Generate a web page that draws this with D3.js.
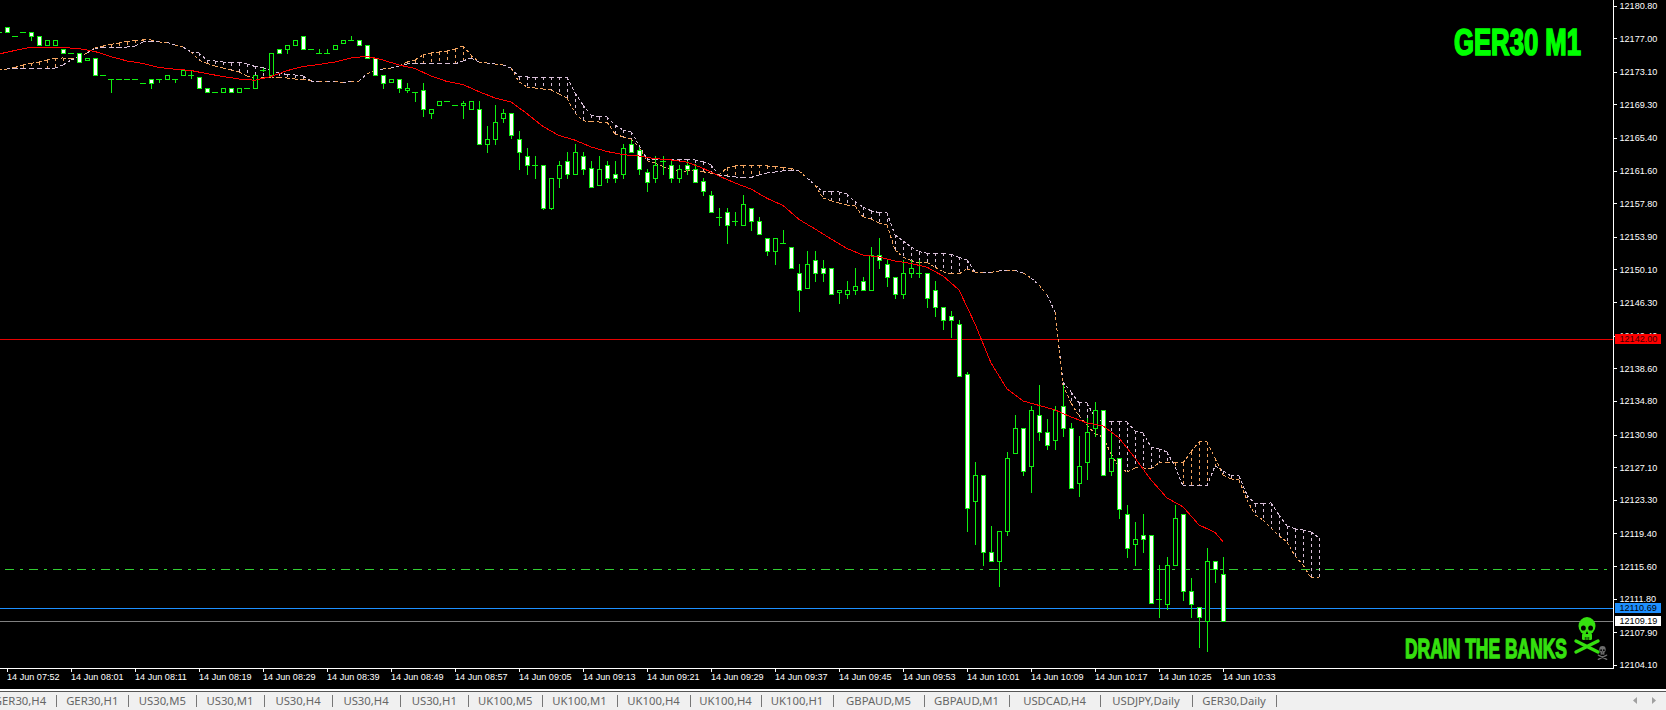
<!DOCTYPE html>
<html><head><meta charset="utf-8">
<script src="https://cdn.jsdelivr.net/npm/d3@7/dist/d3.min.js"></script>
<style>
html,body{margin:0;padding:0;background:#000;overflow:hidden}
svg{display:block}
</style></head><body>
<svg id="c" width="1666" height="710"></svg>
<script>
const timeLabels=["14 Jun 07:52","14 Jun 08:01","14 Jun 08:11","14 Jun 08:19","14 Jun 08:29","14 Jun 08:39","14 Jun 08:49","14 Jun 08:57","14 Jun 09:05","14 Jun 09:13","14 Jun 09:21","14 Jun 09:29","14 Jun 09:37","14 Jun 09:45","14 Jun 09:53","14 Jun 10:01","14 Jun 10:09","14 Jun 10:17","14 Jun 10:25","14 Jun 10:33"];
const priceTicks=[12180.8,12177,12173.1,12169.3,12165.4,12161.6,12157.8,12153.9,12150.1,12146.3,12142.4,12138.6,12134.8,12130.9,12127.1,12123.3,12119.4,12115.6,12111.8,12107.9,12104.1];
const openPrices=[
12177.68,12178.22,12177.22,12177.68,12177.68,12177.22,12176.17,12176.17,12175.70,12175.24,
12175.24,12174.42,12174.66,12172.68,12172.22,12172.22,12172.22,12172.22,12171.75,12172.22,
12172.22,12172.22,12172.22,12172.68,12172.68,12172.45,12171.17,12170.70,12170.70,12171.17,
12170.70,12171.17,12171.17,12173.26,12172.68,12175.70,12175.70,12176.17,12177.22,12175.70,
12175.24,12175.24,12175.70,12176.40,12176.75,12176.75,12176.17,12174.66,12172.68,12171.83,
12172.22,12170.94,12170.70,12170.97,12168.26,12169.19,12169.65,12169.19,12169.19,12168.72,
12168.72,12164.65,12165.24,12167.64,12168.26,12165.24,12163.26,12162.21,12162.21,12157.21,
12160.66,12162.68,12161.13,12163.26,12161.86,12159.85,12162.21,12161.13,12161.13,12164.65,
12163.92,12161.40,12160.66,12162.68,12162.21,12160.66,12162.21,12161.75,12160.35,12158.72,
12156.17,12156.75,12155.70,12155.20,12157.21,12155.70,12153.72,12152.17,12153.14,12152.68,
12149.65,12147.87,12151.17,12150.24,12150.24,12147.45,12147.17,12147.68,12148.72,12147.68,
12151.67,12150.70,12149.19,12147.21,12149.65,12149.65,12149.65,12147.68,12145.70,12144.66,
12143.73,12137.91,12123.11,12126.17,12117.22,12116.13,12119.66,12128.69,12131.63,12127.18,
12133.15,12131.13,12130.20,12134.19,12131.63,12125.20,12127.64,12131.63,12133.72,12126.63,
12128.14,12121.63,12118.14,12119.19,12119.19,12111.67,12111.17,12115.66,12121.63,12112.64,
12110.74,12109.19,12116.17,12114.66];
const highPrices=[
12177.68,12178.22,12177.22,12177.68,12177.68,12177.22,12176.75,12176.75,12175.70,12175.24,
12175.24,12174.66,12174.66,12172.68,12172.22,12172.22,12172.22,12172.22,12171.75,12172.22,
12172.22,12172.68,12172.22,12173.26,12173.15,12172.45,12171.17,12170.70,12171.17,12171.17,
12171.17,12171.17,12172.68,12173.49,12175.24,12175.70,12176.17,12176.75,12177.22,12175.70,
12175.70,12175.70,12176.17,12176.75,12177.22,12176.75,12176.17,12174.66,12172.68,12172.22,
12172.22,12171.75,12170.70,12171.75,12168.72,12169.65,12169.65,12169.19,12169.65,12169.65,
12169.65,12166.79,12169.19,12168.72,12168.26,12166.17,12164.19,12163.26,12162.21,12160.70,
12162.68,12163.72,12164.65,12163.72,12162.68,12163.26,12162.68,12162.68,12164.65,12165.16,
12164.38,12161.75,12163.26,12163.26,12162.68,12162.21,12162.68,12162.37,12160.70,12159.19,
12157.25,12157.25,12156.79,12158.76,12157.21,12156.24,12153.72,12153.72,12154.69,12152.68,
12150.74,12152.25,12152.25,12151.20,12150.24,12147.68,12148.76,12150.27,12149.19,12152.72,
12153.72,12151.28,12149.19,12151.20,12151.20,12151.20,12149.65,12148.72,12145.70,12145.28,
12144.23,12138.17,12127.72,12126.17,12120.28,12119.66,12128.84,12133.15,12131.63,12134.19,
12136.63,12132.68,12134.19,12136.63,12132.22,12130.74,12132.79,12134.65,12133.72,12131.24,
12128.14,12122.68,12120.70,12121.67,12119.19,12115.74,12116.71,12122.68,12121.63,12114.19,
12110.74,12117.72,12116.17,12116.71];
const lowPrices=[
12177.68,12177.68,12177.22,12177.68,12176.71,12176.17,12176.17,12176.17,12175.24,12175.24,
12174.19,12174.42,12172.68,12172.68,12170.66,12172.22,12172.22,12172.22,12171.75,12171.13,
12171.75,12172.22,12171.75,12172.68,12172.22,12171.17,12170.70,12170.70,12170.70,12170.70,
12170.70,12171.17,12171.17,12173.03,12172.68,12175.24,12175.16,12176.17,12175.70,12175.70,
12175.24,12175.24,12175.70,12176.40,12176.75,12176.17,12174.66,12172.68,12171.13,12171.83,
12170.66,12170.66,12169.62,12167.79,12167.60,12169.19,12169.65,12169.19,12167.60,12168.72,
12164.65,12163.68,12164.61,12167.13,12165.24,12161.67,12161.09,12160.66,12157.02,12157.02,
12159.58,12160.66,12161.13,12161.09,12159.65,12159.85,12160.20,12160.20,12160.66,12163.72,
12161.09,12159.11,12160.20,12161.09,12160.20,12160.20,12161.09,12160.24,12158.65,12156.71,
12155.16,12153.07,12155.20,12155.20,12154.58,12154.19,12151.67,12150.62,12153.14,12150.20,
12145.16,12147.87,12148.65,12148.65,12147.17,12146.09,12146.67,12147.17,12147.68,12147.68,
12150.16,12148.07,12146.67,12146.67,12149.15,12149.15,12145.66,12144.62,12143.07,12142.18,
12137.64,12119.62,12118.07,12115.63,12116.13,12113.18,12119.12,12128.69,12126.13,12124.15,
12130.20,12129.12,12129.12,12130.67,12124.62,12123.69,12125.62,12130.66,12126.16,12126.13,
12121.13,12116.59,12115.66,12117.17,12111.21,12109.61,12110.51,12115.66,12111.56,12109.61,
12106.12,12105.66,12113.68,12109.19];
const closePrices=[
12177.68,12177.68,12177.22,12177.68,12177.18,12176.17,12176.75,12176.75,12175.24,12175.24,
12174.19,12174.66,12172.68,12172.68,12172.22,12172.22,12172.22,12172.22,12171.75,12171.75,
12172.22,12172.68,12172.22,12173.26,12172.68,12171.17,12170.70,12170.70,12171.17,12170.70,
12171.17,12171.17,12172.68,12173.26,12175.24,12175.24,12176.17,12176.75,12175.70,12175.70,
12175.24,12175.24,12176.17,12176.75,12176.75,12176.17,12174.66,12172.68,12171.75,12172.22,
12171.17,12171.17,12170.70,12168.72,12168.72,12169.65,12169.65,12169.19,12169.42,12169.65,
12164.65,12165.24,12167.21,12168.26,12165.70,12163.72,12162.21,12162.21,12157.21,12160.70,
12162.21,12161.13,12163.72,12161.75,12159.65,12161.75,12160.66,12160.66,12164.19,12163.72,
12161.75,12160.24,12162.21,12162.68,12160.66,12161.75,12161.75,12160.24,12159.15,12156.71,
12156.17,12155.20,12155.70,12157.68,12155.66,12154.19,12152.17,12153.72,12153.14,12150.20,
12147.68,12150.70,12149.65,12149.65,12147.17,12147.68,12147.68,12148.14,12147.68,12151.67,
12151.17,12149.19,12147.21,12149.65,12150.24,12149.65,12146.75,12145.66,12144.15,12144.15,
12137.64,12122.33,12126.17,12117.18,12116.13,12119.66,12128.15,12131.63,12126.60,12133.73,
12131.13,12129.62,12133.73,12131.60,12124.62,12127.18,12131.16,12133.72,12126.16,12128.14,
12122.21,12117.68,12118.72,12118.68,12111.21,12111.67,12115.66,12121.17,12112.64,12111.17,
12109.61,12116.17,12115.24,12109.19];
const maValues=[
12175.16,12175.57,12175.94,12175.97,12175.92,12175.78,12175.45,12174.85,12174.35,12174.06,
12173.59,12173.39,12173.24,12172.87,12172.54,12172.25,12172.11,12172.54,12173.22,12173.71,
12173.94,12174.23,12174.70,12174.90,12174.46,12173.88,12173.47,12172.60,12171.96,12171.61,
12170.78,12170.04,12169.58,12168.22,12166.73,12165.68,12165.14,12164.35,12163.82,12163.45,
12163.30,12162.99,12162.84,12162.58,12161.87,12160.97,12160.16,12159.46,12158.38,12157.54,
12155.92,12154.81,12153.65,12152.54,12151.77,12151.56,12151.09,12150.80,12150.36,12149.35,
12147.72,12143.77,12139.23,12136.21,12134.81,12134.29,12133.77,12132.95,12132.25,12131.90,
12130.51,12128.18,12125.63,12123.53,12122.49,12120.39,12119.52,12118.45];
const spanA=[
12173.30,12173.42,12173.59,12173.88,12174.06,12174.23,12174.46,12174.64,12174.70,12174.58,
12174.81,12175.28,12175.86,12176.09,12176.27,12176.44,12176.61,12176.73,12176.79,12176.79,
12176.56,12176.50,12176.21,12175.97,12175.39,12174.46,12174.06,12173.77,12173.53,12173.30,
12173.07,12172.60,12172.37,12172.37,12172.49,12172.43,12172.37,12172.25,12172.20,12172.02,
12171.99,12171.99,12171.99,12171.79,12171.96,12172.02,12172.84,12173.30,12173.42,12173.53,
12173.77,12174.23,12174.46,12175.04,12175.28,12175.39,12175.51,12175.74,12176.09,12175.04,
12174.23,12174.11,12174.00,12173.88,12173.53,12171.91,12171.32,12171.21,12171.09,12170.97,
12170.51,12170.04,12168.30,12167.40,12167.29,12167.25,12167.25,12165.86,12165.51,12165.28,
12164.35,12162.75,12162.49,12162.06,12161.75,12161.47,12161.56,12161.67,12161.47,12161.29,
12161.09,12161.91,12162.14,12162.20,12162.20,12162.20,12162.14,12162.08,12161.96,12161.85,
12161.56,12160.74,12159.93,12158.42,12158.10,12157.84,12157.60,12157.49,12156.24,12155.97,
12155.51,12155.28,12152.37,12151.56,12151.13,12150.89,12150.94,12150.36,12149.85,12149.58,
12149.58,12150.16,12149.81,12149.70,12149.75,12149.93,12150.04,12149.99,12149.70,12149.11,
12148.30,12147.14,12145.16,12136.67,12134.58,12133.07,12132.02,12130.97,12130.63,12128.65,
12127.14,12126.56,12127.02,12127.02,12126.90,12127.60,12127.60,12127.60,12127.60,12128.88,
12130.05,12130.05,12128.18,12126.21,12125.74,12125.63,12123.30,12121.56,12120.98,12120.04,
12119.11,12118.41,12116.79,12115.74,12114.23,12114.23];
const spanB=[
12173.30,12173.42,12173.47,12173.50,12173.50,12173.50,12173.50,12173.53,12173.88,12174.46,
12174.81,12175.28,12175.80,12175.92,12175.92,12175.94,12175.97,12176.09,12176.56,12176.67,
12176.56,12176.50,12176.21,12175.97,12175.39,12175.28,12174.41,12174.35,12174.23,12174.17,
12174.17,12174.00,12173.71,12173.59,12173.18,12172.95,12172.78,12172.72,12172.60,12172.02,
12171.99,12171.99,12171.99,12171.79,12171.96,12172.02,12172.84,12173.30,12173.42,12173.53,
12173.77,12174.00,12174.11,12174.00,12174.00,12174.00,12174.00,12174.00,12174.35,12174.70,
12174.23,12174.11,12174.00,12173.88,12173.53,12172.49,12172.49,12172.43,12172.43,12172.43,
12172.43,12172.43,12170.63,12169.23,12168.07,12167.89,12167.83,12166.90,12166.32,12166.13,
12164.58,12162.95,12162.92,12162.92,12162.92,12162.92,12162.89,12162.84,12162.64,12162.25,
12161.09,12160.97,12160.86,12160.80,12160.80,12161.09,12161.32,12161.44,12161.56,12161.67,
12161.56,12160.74,12159.93,12159.11,12159.15,12159.11,12158.88,12157.99,12157.37,12156.94,
12156.71,12156.67,12154.11,12153.42,12152.72,12152.17,12151.99,12151.99,12151.99,12151.87,
12151.52,12151.21,12149.81,12149.70,12149.75,12149.93,12150.04,12149.99,12149.70,12149.11,
12148.30,12147.14,12145.16,12137.02,12135.86,12134.58,12134.58,12132.83,12132.37,12132.37,
12132.37,12132.37,12131.32,12131.09,12129.46,12129.23,12128.88,12127.14,12124.93,12124.93,
12124.93,12124.93,12127.25,12126.67,12126.09,12126.09,12123.88,12122.84,12122.89,12122.95,
12121.56,12120.28,12119.93,12119.81,12119.58,12118.88];
const levelPrices=[12142.00,12115.25,12110.69,12109.19];
const levelColors=["#e60000","#32cd32","#1e90ff","#808080"];
const priceTags=[12142.00,12110.69,12109.19];
const tagColors=["#ff0000","#1e90ff","#ffffff"];
const tabLabels=["GER30,H4","GER30,H1","US30,M5","US30,M1","US30,H4","US30,H4","US30,H1","UK100,M5","UK100,M1","UK100,H4","UK100,H4","UK100,H1","GBPAUD,M5","GBPAUD,M1","USDCAD,H4","USDJPY,Daily","GER30,Daily"];
const tabEdges=[-16,56,128.6,196,264,332,400,468.6,542,617,690,761,833,924,1009,1100,1192,1276];

const svg=d3.select("#c");
const plotR=1613.5,plotB=668.5;
const x=d3.scaleLinear().domain([0,165]).range([-1,1319]);
const y=d3.scaleLinear().domain([12104.1,12180.8]).range([665,5.5]);

svg.append("rect").attr("width",1666).attr("height",710).attr("fill","#000");

// reference levels
svg.append("g").attr("shape-rendering","crispEdges").selectAll("line").data(levelPrices).join("line")
  .attr("x1",(d,i)=>i===1?5:0).attr("x2",(d,i)=>i===1?1610:plotR)
  .attr("y1",d=>y(d)).attr("y2",d=>y(d))
  .attr("stroke",(d,i)=>levelColors[i]).attr("stroke-width",1)
  .attr("stroke-dasharray",(d,i)=>i===1?"9 6 3 6":null);

// cloud
const cloudIdx=d3.range(spanA.length);
svg.append("g").attr("shape-rendering","crispEdges").selectAll("line").data(cloudIdx.filter(i=>spanA[i]!==spanB[i])).join("line")
  .attr("x1",i=>x(i)).attr("x2",i=>x(i))
  .attr("y1",i=>y(Math.max(spanA[i],spanB[i]))).attr("y2",i=>y(Math.min(spanA[i],spanB[i])))
  .attr("stroke",i=>spanA[i]>spanB[i]?"#f4a460":"#d8bfd8")
  .attr("stroke-width",1).attr("stroke-dasharray","3 3");
const cloudSegments=[];
d3.range(spanA.length-1).forEach(i=>{
  const a={s:spanA,c:"#f4a460",i},b={s:spanB,c:"#d8bfd8",i};
  if(i%2){cloudSegments.push(a,b);}else{cloudSegments.push(b,a);}
});
svg.append("g").attr("shape-rendering","crispEdges").selectAll("line").data(cloudSegments).join("line")
  .attr("x1",d=>x(d.i)).attr("x2",d=>x(d.i+1))
  .attr("y1",d=>y(d.s[d.i])).attr("y2",d=>y(d.s[d.i+1]))
  .attr("stroke",d=>d.c).attr("stroke-width",1).attr("stroke-dasharray","3 2.5");

// candles
const cIdx=d3.range(openPrices.length);
const green="#10f010";
const cg=svg.append("g").attr("shape-rendering","crispEdges");
cg.selectAll("line.w").data(cIdx).join("line").attr("class","w")
  .attr("x1",i=>x(i)).attr("x2",i=>x(i))
  .attr("y1",i=>y(highPrices[i])).attr("y2",i=>y(lowPrices[i]))
  .attr("stroke",green).attr("stroke-width",1);
cg.selectAll("line.d").data(cIdx.filter(i=>openPrices[i]===closePrices[i])).join("line").attr("class","d")
  .attr("x1",i=>x(i)-3).attr("x2",i=>x(i)+3)
  .attr("y1",i=>y(openPrices[i])).attr("y2",i=>y(openPrices[i]))
  .attr("stroke",green).attr("stroke-width",1);
cg.selectAll("rect").data(cIdx.filter(i=>openPrices[i]!==closePrices[i])).join("rect")
  .attr("x",i=>x(i)-2).attr("width",4)
  .attr("y",i=>y(Math.max(openPrices[i],closePrices[i])))
  .attr("height",i=>Math.abs(y(openPrices[i])-y(closePrices[i])))
  .attr("fill",i=>closePrices[i]<openPrices[i]?"#fff":"#000")
  .attr("stroke",green).attr("stroke-width",1);

// moving average
const maIndex=d3.range(0,153,2).concat([153]);
svg.append("path").attr("d",d3.line().x((d,k)=>x(maIndex[k])).y(d=>y(d))(maValues))
  .attr("fill","none").attr("stroke","#ff0000").attr("stroke-width",1).attr("shape-rendering","crispEdges");

// frame
const frame=svg.append("g").attr("shape-rendering","crispEdges").attr("stroke","#fff");
frame.append("line").attr("x1",0).attr("x2",plotR).attr("y1",plotB).attr("y2",plotB);
frame.append("line").attr("x1",plotR).attr("x2",plotR).attr("y1",0).attr("y2",plotB);

// axes
const axisFont="'Liberation Sans',Arial,sans-serif";
const yAxis=svg.append("g").attr("transform",`translate(${plotR},0)`)
  .call(d3.axisRight(y).tickValues(priceTicks).tickFormat(d3.format(".2f")).tickSize(3).tickPadding(3));
const xAxis=svg.append("g").attr("transform",`translate(0,${plotB})`)
  .call(d3.axisBottom(x).tickValues(timeLabels.map((d,i)=>1+8*i)).tickFormat(i=>timeLabels[(i-1)/8]).tickSize(3).tickPadding(3));
[yAxis,xAxis].forEach(a=>{
  a.select(".domain").remove();
  a.selectAll("line").attr("stroke","#fff").attr("shape-rendering","crispEdges");
  a.selectAll("text").attr("fill","#fff").style("font-family",axisFont).style("font-size","9.1px");
});
xAxis.selectAll("text").attr("text-anchor","start").attr("x",-0.5).attr("y",5);

// price tags
const tags=svg.append("g").selectAll("g").data(priceTags).join("g").attr("transform",d=>`translate(1615,${y(d)})`);
tags.append("rect").attr("x",0).attr("y",-5).attr("width",46).attr("height",10).attr("fill",(d,i)=>tagColors[i]).attr("shape-rendering","crispEdges");
tags.append("text").attr("x",4.5).attr("dy","0.34em").attr("fill",(d,i)=>i===0?"#400000":"#000")
  .style("font-family",axisFont).style("font-size","9.1px").text(d=>d3.format(".2f")(d));

// headings
const headFont="Impact,'Liberation Sans Narrow',Arial Narrow,sans-serif";
svg.append("text").attr("x",1454).attr("y",55).attr("textLength",127).attr("lengthAdjust","spacingAndGlyphs")
  .attr("fill","#00ff00").attr("stroke","#00ff00").attr("stroke-width",1.7)
  .style("font-family",headFont).style("font-weight","bold").style("font-size","37px").text("GER30 M1");
svg.append("text").attr("x",1405).attr("y",658).attr("textLength",162).attr("lengthAdjust","spacingAndGlyphs")
  .attr("fill","#35e00f").attr("stroke","#35e00f").attr("stroke-width",1.3)
  .style("font-family",headFont).style("font-weight","bold").style("font-size","27.5px").text("DRAIN THE BANKS");

// skull icons
function skull(g,c){
  g.append("ellipse").attr("cx",0).attr("cy",-8).attr("rx",8.5).attr("ry",9).attr("fill",c);
  g.append("rect").attr("x",-5).attr("y",-1).attr("width",10).attr("height",7).attr("rx",1.5).attr("fill",c);
  [-3.6,3.6].forEach(dx=>g.append("ellipse").attr("cx",dx).attr("cy",-6).attr("rx",2.4).attr("ry",2.6).attr("fill","#000"));
  g.append("path").attr("d","M0,-3L-1.3,0H1.3Z").attr("fill","#000");
  [-1.7,0,1.7].forEach(dx=>g.append("line").attr("x1",dx).attr("x2",dx).attr("y1",3).attr("y2",6).attr("stroke","#000").attr("stroke-width",.7));
  g.append("path").attr("d","M-11,7L11,18M11,7L-11,18").attr("stroke",c).attr("stroke-width",3.4).attr("stroke-linecap","round").attr("fill","none");
}
skull(svg.append("g").attr("transform","translate(1587,634)"),"#35e00f");
skull(svg.append("g").attr("transform","translate(1602.5,652.5) scale(.38)"),"#6e6e6e");

// tab bar
svg.append("rect").attr("x",0).attr("y",689).attr("width",1666).attr("height",2).attr("fill","#fff");
svg.append("rect").attr("x",0).attr("y",691).attr("width",1666).attr("height",1).attr("fill","#555");
svg.append("rect").attr("x",0).attr("y",692).attr("width",1666).attr("height",18).attr("fill","#f0f0f0");
svg.append("g").selectAll("text").data(tabLabels).join("text")
  .attr("x",(d,i)=>(tabEdges[i]+tabEdges[i+1])/2).attr("y",705).attr("text-anchor","middle")
  .attr("fill","#666").style("font-family","'Noto Sans',sans-serif").style("font-size","11.3px").text(d=>d);
svg.append("g").attr("shape-rendering","crispEdges").selectAll("line").data(tabEdges.slice(1)).join("line")
  .attr("x1",d=>d).attr("x2",d=>d).attr("y1",695).attr("y2",707).attr("stroke","#777");
svg.append("path").attr("d","M1637,697L1633,700.5L1637,704Z").attr("fill","#a0a0a0");
svg.append("path").attr("d","M1652,697L1656,700.5L1652,704Z").attr("fill","#a0a0a0");
</script>
</body></html>
